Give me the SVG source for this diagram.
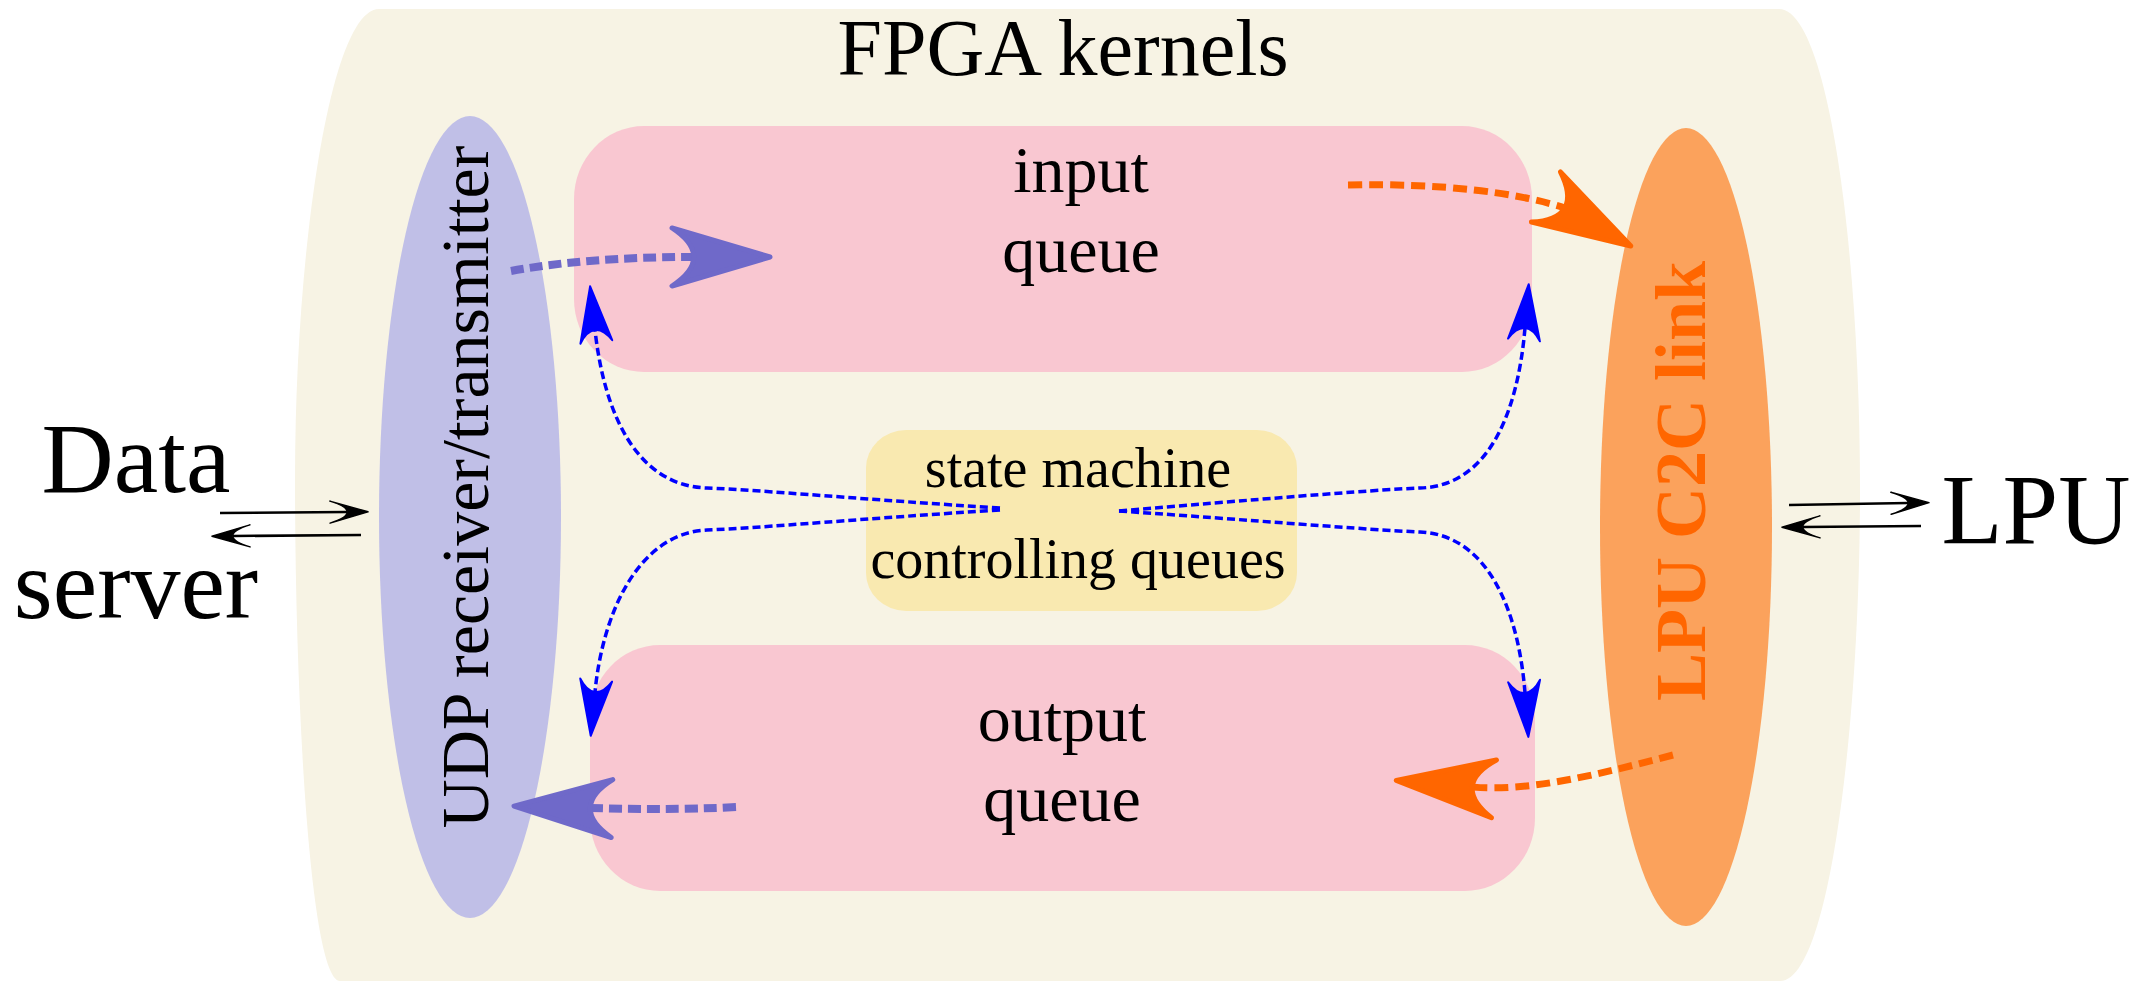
<svg xmlns="http://www.w3.org/2000/svg" width="2154" height="981" viewBox="0 0 2154 981">
  <defs>
    <style>
      .t { font-family: "Liberation Serif", "Times New Roman", serif; fill: #000; text-anchor: middle; }
      .blue { fill: none; stroke: #0000ff; stroke-width: 3.5; stroke-dasharray: 8 4; }
      .purple { fill: none; stroke: #6f69c9; stroke-width: 8; stroke-dasharray: 13 6; }
      .orange { fill: none; stroke: #ff6600; stroke-width: 7; stroke-dasharray: 14 7; }
      .black { fill: none; stroke: #000; stroke-width: 2.6; }
    </style>
    <marker id="mPurple" markerUnits="userSpaceOnUse" orient="auto" refX="0" refY="0" markerWidth="10" markerHeight="10" overflow="visible">
      <path d="M 76,0 L -22,-29 C 7,-10 7,10 -22,29 Z" fill="#6f69c9" stroke="#6f69c9" stroke-width="5" stroke-linejoin="round"/>
    </marker>
    <marker id="mOrange" markerUnits="userSpaceOnUse" orient="auto" refX="0" refY="0" markerWidth="10" markerHeight="10" overflow="visible">
      <path d="M 76,0 L -22,-29 C 7,-10 7,10 -22,29 Z" fill="#ff6600" stroke="#ff6600" stroke-width="5" stroke-linejoin="round"/>
    </marker>
    <marker id="mOrange30" markerUnits="userSpaceOnUse" orient="30" refX="0" refY="0" markerWidth="10" markerHeight="10" overflow="visible">
      <path d="M 76,0 L -22,-29 C 7,-10 7,10 -22,29 Z" fill="#ff6600" stroke="#ff6600" stroke-width="5" stroke-linejoin="round"/>
    </marker>
    <marker id="mBlue" markerUnits="userSpaceOnUse" orient="auto" refX="0" refY="0" markerWidth="10" markerHeight="10" overflow="visible">
      <path d="M 44,0 L -12,-16 C 4,-6 4,6 -12,16 Z" fill="#0000ff" stroke="#0000ff" stroke-width="2" stroke-linejoin="round"/>
    </marker>
    <marker id="mBlack" markerUnits="userSpaceOnUse" orient="auto" refX="0" refY="0" markerWidth="10" markerHeight="10" overflow="visible">
      <path d="M 21,0 L -17,-11 C 6,-4 6,4 -17,11 Z" fill="#000" stroke="#000" stroke-width="1.5" stroke-linejoin="round"/>
    </marker>
  </defs>

  <g id="fpga-kernels">
    <path d="M 379,9 H 1779 C 1828,9 1860,250 1860,490 C 1860,720 1830,981 1780,981 H 340 C 310,981 295,700 295,480 C 295,250 330,9 379,9 Z" fill="#f7f3e4"/>
    <text class="t" x="1063" y="75" font-size="80">FPGA kernels</text>
  </g>

  <g id="udp">
    <ellipse cx="470" cy="517" rx="91" ry="401" fill="#c0bfe7"/>
    <text class="t" transform="translate(488,487) rotate(-90)" font-size="68">UDP receiver/transmitter</text>
  </g>

  <g id="lpu-c2c">
    <ellipse cx="1686" cy="527" rx="86" ry="399" fill="#fba25c"/>
    <text class="t" transform="translate(1705,481) rotate(-90)" font-size="72" font-weight="bold" style="fill:#ff6600">LPU C2C link</text>
  </g>

  <g id="input-queue">
    <rect x="574" y="126" width="958" height="246" rx="70" ry="73" fill="#f9c7d1"/>
    <text class="t" x="1081" y="192" font-size="66">input</text>
    <text class="t" x="1081" y="272" font-size="66">queue</text>
  </g>

  <g id="output-queue">
    <rect x="590" y="645" width="945" height="246" rx="70" ry="73" fill="#f9c7d1"/>
    <text class="t" x="1062" y="741" font-size="66">output</text>
    <text class="t" x="1062" y="821" font-size="66">queue</text>
  </g>

  <g id="state-machine">
    <rect x="866" y="430" width="431" height="181" rx="40" ry="38" fill="#f9e9b0"/>
    <text class="t" x="1078" y="487" font-size="56">state machine</text>
    <text class="t" x="1078" y="578" font-size="56">controlling queues</text>
  </g>

  <g id="data-server">
    <text class="t" x="136" y="492" font-size="100">Data</text>
    <text class="t" x="136" y="618" font-size="100">server</text>
  </g>

  <g id="lpu">
    <text class="t" x="2036" y="543" font-size="100">LPU</text>
  </g>

  <g id="connectors">
    <path class="black" d="M 220,513 L 347,512" marker-end="url(#mBlack)"/>
    <path class="black" d="M 361,535 L 233,536" marker-end="url(#mBlack)"/>
    <path class="black" d="M 1789,505 L 1908,503" marker-end="url(#mBlack)"/>
    <path class="black" d="M 1921,526 L 1803,527" marker-end="url(#mBlack)"/>

    <path class="purple" d="M 511,271 C 560,262 620,257 694,257" marker-end="url(#mPurple)"/>
    <path class="purple" d="M 736,807 C 680,810 630,809 590,808" marker-end="url(#mPurple)"/>

    <path class="orange" d="M 1348,185 C 1440,183 1515,192 1565,208" marker-end="url(#mOrange30)"/>
    <path class="orange" d="M 1673,755 C 1600,774 1530,792 1472,787" marker-end="url(#mOrange)"/>

    <path class="blue" d="M 1000,508 C 870,500 760,490 707,488 C 640,486 605,420 595,330" marker-end="url(#mBlue)"/>
    <path class="blue" d="M 1000,510 C 870,518 760,528 707,530 C 640,533 603,610 595,692" marker-end="url(#mBlue)"/>
    <path class="blue" d="M 1119,511 C 1250,500 1370,490 1420,488 C 1490,486 1518,410 1525,328" marker-end="url(#mBlue)"/>
    <path class="blue" d="M 1119,511 C 1250,520 1370,530 1420,532 C 1490,535 1519,615 1525,693" marker-end="url(#mBlue)"/>
  </g>
</svg>
